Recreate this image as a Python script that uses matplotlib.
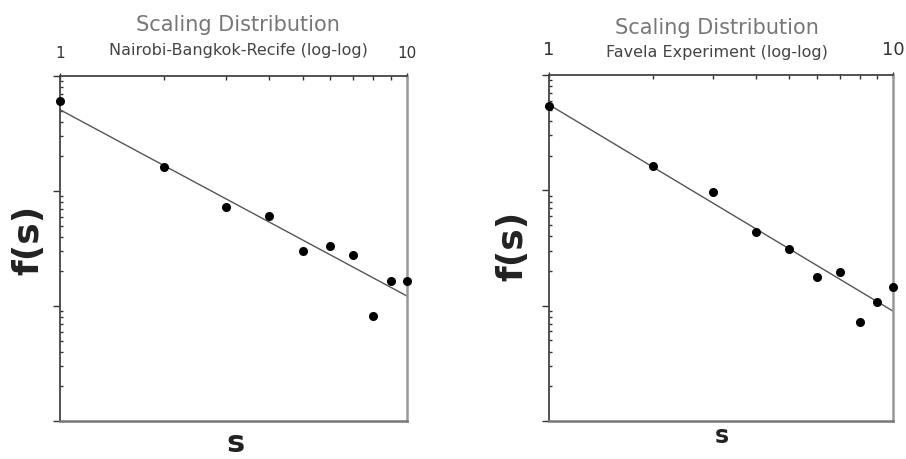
import numpy as np
import matplotlib

matplotlib.use("Agg")
import matplotlib.pyplot as plt
from matplotlib.ticker import LogLocator, NullFormatter, FixedLocator, FixedFormatter

# ============================================================
# 数据
# ============================================================
s_vals = [1, 2, 3, 4, 5, 6, 7, 8, 9, 10]

# Nairobi-Bangkok-Recife
f_nbr = [0.603, 0.163, 0.073, 0.061, 0.030, 0.033, 0.0277, 0.0082, 0.0166, 0.0166]
fit_nbr = (0.509, -1.62)    # f = a * s^b

# Favela Experiment
f_fav = [0.542, 0.164, 0.0964, 0.0435, 0.0307, 0.0179, 0.0196, 0.0072, 0.0108, 0.0145]
fit_fav = (0.553, -1.79)

titles = ["Scaling Distribution", "Scaling Distribution"]
subtitles = ["Nairobi-Bangkok-Recife (log-log)", "Favela Experiment (log-log)"]
xtick_vals = [1, 10]
xtick_text = ["1", "10"]

W, H = 906, 460
fig = plt.figure(figsize=(W / 100, H / 100), dpi=100)


def px(x, y):
    """像素坐标 -> figure 坐标"""
    return x / W, 1 - y / H


def panel(rect, f, fit, title, sub, title_xy, sub_xy, ylab_xy, xlab_xy,
          ylab_size, xlab_size, tick_pad, tick_size):
    ax = fig.add_axes(rect)
    ax.set_xscale("log")
    ax.set_yscale("log")
    ax.set_xlim(1, 10)
    ax.set_ylim(1e-3, 1)

    s_fit = np.logspace(0, 1, 60)
    ax.plot(s_fit, fit[0] * s_fit ** fit[1], color="#555555", lw=1.0, zorder=2)
    ax.plot(s_vals, f, "o", color="black", ms=5.5, clip_on=False, zorder=3)

    # 刻度：x 在上方
    ax.xaxis.tick_top()
    ax.xaxis.set_major_locator(FixedLocator(xtick_vals))
    ax.xaxis.set_major_formatter(FixedFormatter(xtick_text))
    ax.xaxis.set_minor_locator(FixedLocator(range(2, 10)))
    ax.xaxis.set_minor_formatter(NullFormatter())
    ax.tick_params(axis="x", which="major", direction="inout", length=5,
                   width=1, color="#333333", labelsize=tick_size,
                   labelcolor="#333333", pad=tick_pad)
    ax.tick_params(axis="x", which="minor", direction="in", length=3,
                   width=1, color="#333333")

    ax.yaxis.set_major_locator(LogLocator(base=10, numticks=10))
    ax.yaxis.set_minor_locator(LogLocator(base=10, subs=np.arange(2, 10), numticks=10))
    ax.yaxis.set_major_formatter(NullFormatter())
    ax.yaxis.set_minor_formatter(NullFormatter())
    ax.tick_params(axis="y", which="major", direction="out", length=5,
                   width=1, color="#333333")
    ax.tick_params(axis="y", which="minor", direction="in", length=2,
                   width=1, color="#333333")

    for side in ("left", "top"):
        ax.spines[side].set_color("#444444")
        ax.spines[side].set_linewidth(1.3)
    ax.spines["bottom"].set_color("#777777")
    ax.spines["bottom"].set_linewidth(1.8)
    ax.spines["right"].set_color("#999999")
    ax.spines["right"].set_linewidth(1.8)

    fig.text(*px(*title_xy), title, ha="center", va="center",
             fontsize=15, color="#777777")
    fig.text(*px(*sub_xy), sub, ha="center", va="center",
             fontsize=11.5, color="#444444")
    fig.text(*px(*ylab_xy), "f(s)", ha="center", va="center", rotation=90,
             fontsize=ylab_size, fontweight="bold", color="#222222")
    fig.text(*px(*xlab_xy), "s", ha="center", va="baseline",
             fontsize=xlab_size, fontweight="bold", color="#222222")
    return ax


panel([60 / W, 1 - 422 / H, 347 / W, 345 / H], f_nbr, fit_nbr,
      titles[0], subtitles[0], (238, 25), (238, 50), (28, 240), (235, 452),
      26, 22, 9, 11)
panel([549 / W, 1 - 422 / H, 344 / W, 346 / H], f_fav, fit_fav,
      titles[1], subtitles[1], (717, 28), (717, 52), (512, 246), (722, 443),
      26, 17, 10, 13)

fig.savefig("out.png", dpi=100)
